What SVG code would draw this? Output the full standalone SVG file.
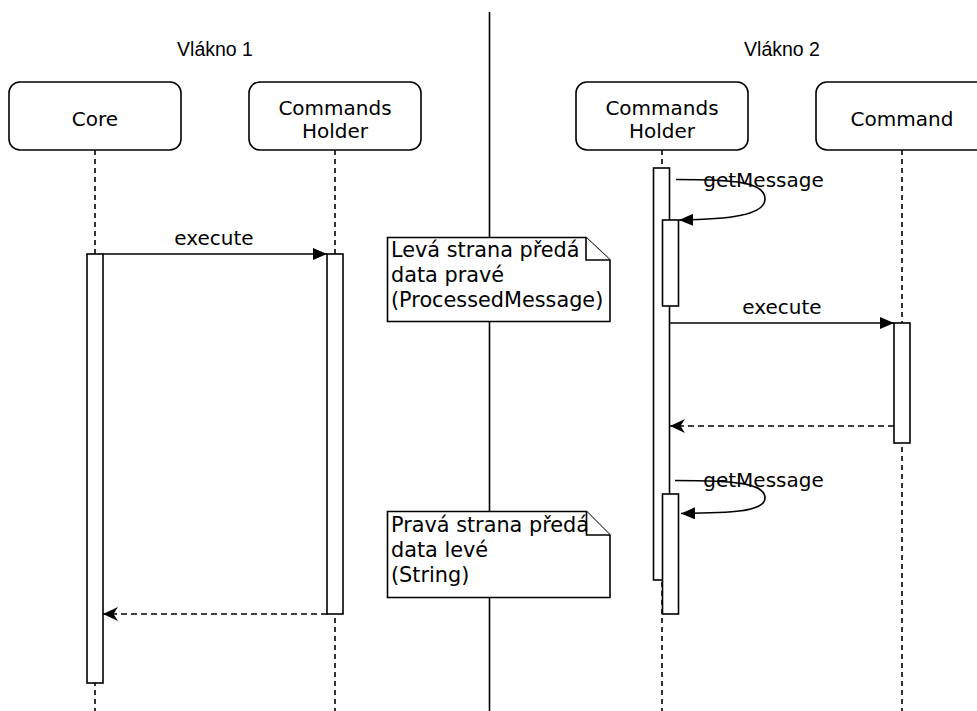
<svg xmlns="http://www.w3.org/2000/svg" width="977" height="711" viewBox="0 0 977 711">
  <style>
    .box { fill: #ffffff; stroke: #000000; stroke-width: 1.6; }
    .life { fill: none; stroke: #000000; stroke-width: 1.6; stroke-dasharray: 5 4; }
    .act { fill: #ffffff; stroke: #000000; stroke-width: 1.6; }
    .msg { fill: none; stroke: #000000; stroke-width: 1.6; }
    .ret { fill: none; stroke: #000000; stroke-width: 1.6; stroke-dasharray: 6 4; }
    .sep { stroke: #000000; stroke-width: 1.6; }
    .note { fill: #ffffff; stroke: #000000; stroke-width: 1.6; stroke-linejoin: miter; }
    .lbl { font-family: "DejaVu Sans", Verdana, sans-serif; font-size: 20px; fill: #000000; }
    .ntxt { font-family: "DejaVu Sans", Verdana, sans-serif; font-size: 20.8px; fill: #000000; }
    .head { font-family: "Liberation Sans", Arial, Helvetica, sans-serif; font-size: 19.5px; fill: #000000; }
    .mid { text-anchor: middle; }
  </style>
  <defs>
    <marker id="block" viewBox="0 0 14 12" refX="14" refY="6" markerWidth="14" markerHeight="12" markerUnits="userSpaceOnUse" orient="auto">
      <path d="M0,0 L14,6 L0,12 Z" fill="#000000"/>
    </marker>
    <marker id="classic" viewBox="0 0 15 14" refX="15" refY="7" markerWidth="15" markerHeight="14" markerUnits="userSpaceOnUse" orient="auto">
      <path d="M0,0 L15,7 L0,14 L4.5,7 Z" fill="#000000"/>
    </marker>
  </defs>

  <rect width="977" height="711" fill="#ffffff"/>

  <!-- thread separator -->
  <line class="sep" x1="489.5" y1="12" x2="489.5" y2="711"/>

  <!-- thread headings -->
  <text class="head mid" x="215" y="56">Vlákno 1</text>
  <text class="head mid" x="782" y="56">Vlákno 2</text>

  <!-- participants with lifelines and activations -->
  <g id="core">
    <line class="life" x1="95" y1="150" x2="95" y2="711"/>
    <rect class="box" x="9" y="82" width="172" height="68" rx="11"/>
    <text class="lbl mid" x="95" y="126">Core</text>
    <rect class="act" x="87" y="254" width="16" height="429"/>
  </g>

  <g id="holder-left">
    <line class="life" x1="335" y1="150" x2="335" y2="711"/>
    <rect class="box" x="249" y="82" width="172" height="68" rx="11"/>
    <text class="lbl mid" x="335" y="115">Commands</text>
    <text class="lbl mid" x="335" y="138">Holder</text>
    <rect class="act" x="327" y="254" width="16" height="360"/>
  </g>

  <g id="holder-right">
    <line class="life" x1="662" y1="150" x2="662" y2="711"/>
    <rect class="box" x="576" y="82" width="172" height="68" rx="11"/>
    <text class="lbl mid" x="662" y="115">Commands</text>
    <text class="lbl mid" x="662" y="138">Holder</text>
    <rect class="act" x="653.5" y="168" width="16" height="412"/>
    <rect class="act" x="662.5" y="220" width="16" height="86"/>
    <rect class="act" x="662.5" y="494" width="16" height="120"/>
  </g>

  <g id="command">
    <line class="life" x1="902" y1="150" x2="902" y2="711"/>
    <rect class="box" x="816" y="82" width="172" height="68" rx="11"/>
    <text class="lbl mid" x="902" y="126">Command</text>
    <rect class="act" x="894" y="323" width="16" height="120"/>
  </g>

  <!-- notes between threads -->
  <g id="note-left-to-right">
    <path class="note" d="M387.5,237.5 L586,237.5 L610,260 L610,321.5 L387.5,321.5 Z"/>
    <path class="note" d="M586,237.5 L586,260 L610,260" fill="none"/>
    <text class="ntxt" x="391" y="257">Levá strana předá</text>
    <text class="ntxt" x="391" y="282">data pravé</text>
    <text class="ntxt" x="391" y="307">(ProcessedMessage)</text>
  </g>

  <g id="note-right-to-left">
    <path class="note" d="M387.5,511.5 L586.5,511.5 L610,535 L610,597.5 L387.5,597.5 Z"/>
    <path class="note" d="M586.5,511.5 L586.5,535 L610,535" fill="none"/>
    <text class="ntxt" x="391" y="532">Pravá strana předá</text>
    <text class="ntxt" x="391" y="557">data levé</text>
    <text class="ntxt" x="391" y="582">(String)</text>
  </g>

  <!-- messages -->
  <g id="connectors">
    <line class="msg" x1="103" y1="254" x2="327" y2="254" marker-end="url(#block)"/>
    <text class="lbl mid" x="214" y="245">execute</text>

    <line class="ret" x1="327" y1="614" x2="103" y2="614" marker-end="url(#classic)"/>

    <path class="msg" d="M676,179.5 C735,179.5 765,182 765,199 C765,215 730,219.5 679,220" marker-end="url(#block)"/>
    <text class="lbl mid" x="763.5" y="187">getMessage</text>

    <line class="msg" x1="670" y1="323" x2="894" y2="323" marker-end="url(#block)"/>
    <text class="lbl mid" x="782" y="314">execute</text>

    <line class="ret" x1="894" y1="426" x2="670" y2="426" marker-end="url(#classic)"/>

    <path class="msg" d="M675,480.5 C735,480.5 765,483 765,498 C765,512 730,513 681,513.5" marker-end="url(#block)"/>
    <text class="lbl mid" x="763.5" y="487">getMessage</text>
  </g>
</svg>
